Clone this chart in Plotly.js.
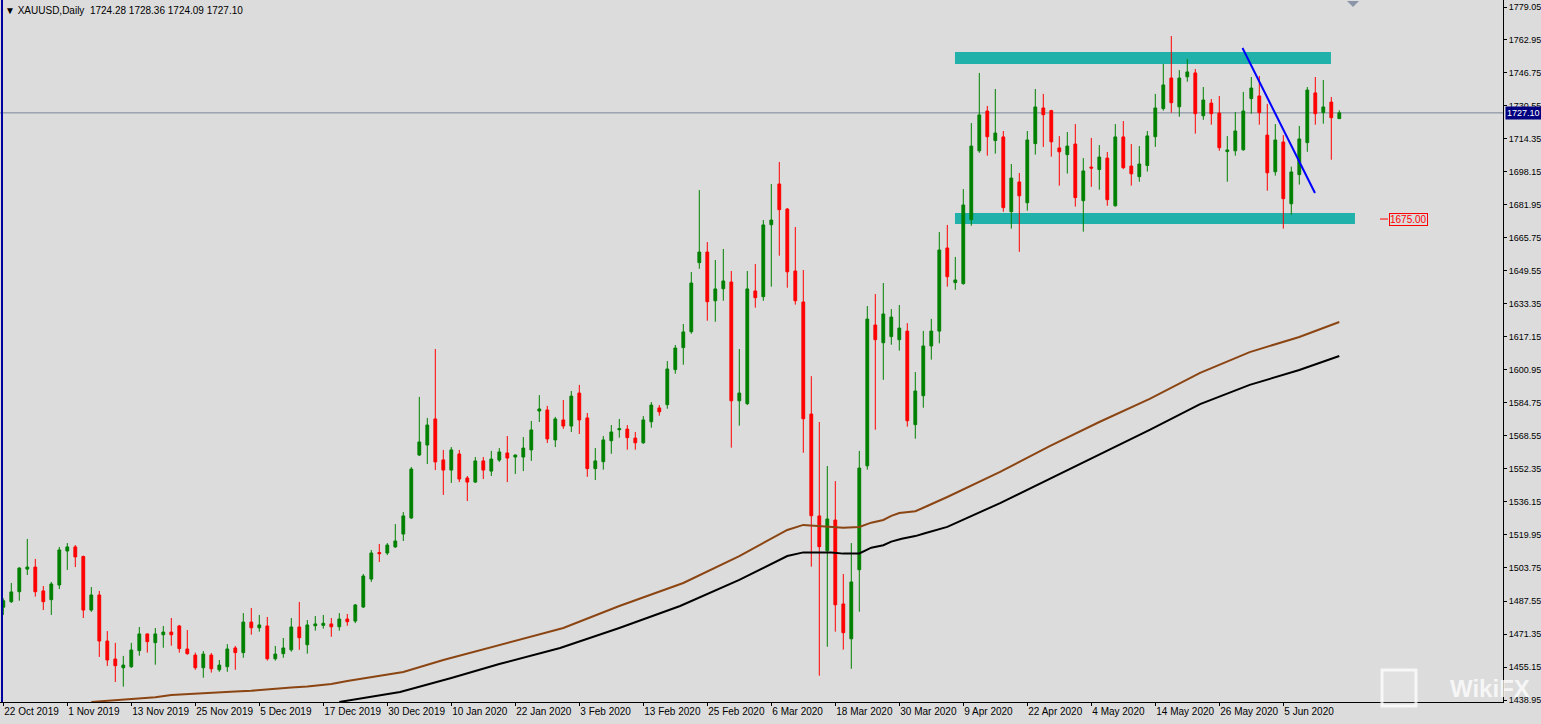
<!DOCTYPE html>
<html><head><meta charset="utf-8">
<script src="https://cdn.plot.ly/plotly-3.0.1.min.js"></script>
<style>html,body{margin:0;padding:0;background:#dcdcdc;overflow:hidden}#chart{width:1541px;height:724px}</style>
</head><body><div id="chart"></div>
<script>
// ---- Data ----
const openP = [1484.5,1487.2,1492.1,1503.2,1504.2,1492.5,1488.2,1495.4,1512.1,1514.1,
1509.4,1483.1,1490.5,1467.9,1459.1,1454.8,1455.3,1463.2,1471.4,1467.1,
1471.0,1472.3,1475.3,1464.0,1461.0,1454.8,1461.0,1453.8,1455.3,1464.5,
1462.2,1477.2,1474.4,1475.3,1459.2,1461.7,1463.6,1474.8,1466.1,1475.4,
1475.6,1476.3,1474.9,1478.7,1477.7,1484.6,1498.3,1511.3,1511.1,1514.1,
1520.4,1528.3,1559.2,1564.1,1576.9,1556.8,1551.8,1559.7,1547.9,1545.9,
1556.3,1551.3,1556.7,1560.2,1558.2,1558.2,1561.7,1580.8,1581.3,1566.6,
1576.4,1573.4,1589.6,1577.4,1552.5,1555.9,1566.2,1571.6,1571.9,1567.5,
1565.2,1575.5,1582.3,1583.9,1601.1,1611.9,1619.7,1653.6,1658.8,1634.9,
1640.8,1644.1,1585.8,1584.4,1639.7,1636.9,1672.2,1692.2,1679.9,1649.5,
1634.3,1579.3,1529.3,1512.2,1527.3,1486.1,1469.0,1502.9,1553.9,1623.0,
1614.3,1617.3,1615.8,1620.0,1574.1,1588.3,1612.7,1620.0,1660.8,1643.8,
1643.3,1674.7,1708.5,1728.0,1713.5,1715.3,1678.6,1693.2,1683.0,1712.0,
1729.5,1728.2,1709.9,1706.6,1711.8,1684.0,1700.5,1699.3,1704.9,1681.5,
1715.3,1701.0,1695.8,1701.3,1715.4,1729.2,1744.2,1730.1,1744.8,1746.7,
1725.7,1731.9,1727.0,1708.1,1708.5,1709.0,1734.1,1735.4,1716.2,1698.2,
1712.8,1682.5,1696.8,1712.5,1736.9,1727.2,1732.4,1724.28];
const highP = [1488.9,1496.4,1504.2,1518.0,1508.2,1494.9,1496.9,1514.1,1516.0,1515.0,
1509.8,1494.4,1492.5,1472.8,1467.0,1460.6,1467.0,1474.8,1471.6,1474.3,
1475.3,1479.2,1475.8,1473.3,1462.2,1463.0,1462.0,1458.6,1466.4,1465.5,
1481.6,1484.1,1480.7,1479.7,1465.5,1469.4,1479.2,1487.1,1478.2,1480.2,
1480.7,1479.2,1481.6,1481.2,1486.1,1500.8,1512.6,1515.5,1516.0,1525.3,
1531.2,1553.3,1587.7,1577.4,1611.2,1561.7,1563.1,1561.7,1548.9,1558.2,
1558.2,1561.2,1562.6,1568.5,1559.4,1568.0,1575.9,1588.6,1583.3,1577.9,
1586.2,1590.6,1593.6,1579.8,1562.6,1568.5,1573.9,1576.9,1573.9,1570.5,
1578.3,1585.2,1583.7,1605.3,1613.2,1623.5,1649.0,1689.2,1663.7,1654.9,
1660.3,1649.5,1611.2,1649.5,1652.9,1674.5,1692.2,1703.0,1680.4,1671.1,
1650.0,1597.9,1575.4,1553.8,1546.4,1500.8,1516.0,1561.2,1632.3,1638.2,
1643.6,1630.8,1632.8,1623.9,1599.9,1620.1,1626.0,1668.6,1672.1,1656.4,
1689.7,1722.1,1746.7,1730.5,1738.8,1718.2,1702.0,1697.6,1718.2,1738.8,
1736.4,1728.6,1715.7,1717.7,1721.6,1704.9,1714.8,1711.3,1707.9,1721.6,
1723.1,1711.8,1710.8,1718.2,1736.4,1751.1,1764.8,1748.1,1753.5,1748.6,
1739.8,1733.9,1735.4,1715.7,1727.5,1737.4,1744.7,1745.2,1731.5,1721.6,
1716.2,1700.7,1720.7,1739.8,1744.7,1743.2,1734.9,1728.36];
const lowP = [1480.7,1486.6,1487.7,1500.3,1489.7,1483.1,1480.7,1493.4,1502.8,1504.2,
1479.2,1482.2,1460.1,1455.7,1447.8,1445.5,1454.7,1460.7,1462.2,1456.3,
1464.6,1465.6,1462.2,1461.2,1453.8,1449.9,1452.4,1452.8,1452.8,1453.8,
1459.7,1471.0,1472.5,1458.3,1458.3,1459.7,1462.7,1463.6,1461.7,1473.0,
1474.0,1470.0,1473.0,1475.4,1476.7,1484.1,1496.9,1506.7,1510.1,1513.6,
1517.0,1527.8,1558.7,1554.8,1551.8,1539.6,1545.5,1545.9,1536.6,1545.5,
1547.4,1548.9,1555.8,1545.9,1549.9,1551.3,1556.3,1575.4,1565.1,1563.1,
1572.0,1570.5,1569.5,1548.5,1546.9,1552.0,1559.8,1567.7,1561.8,1561.8,
1564.7,1572.6,1578.5,1581.9,1599.1,1603.5,1618.7,1650.6,1625.1,1624.6,
1634.9,1562.8,1573.6,1583.7,1631.5,1634.9,1641.8,1657.0,1641.3,1633.0,
1560.3,1504.4,1450.9,1465.1,1472.5,1463.7,1454.3,1482.3,1552.0,1571.6,
1596.1,1613.3,1610.4,1573.1,1567.2,1582.4,1606.0,1614.0,1641.8,1640.3,
1642.8,1671.7,1707.5,1706.1,1707.1,1678.6,1670.3,1658.9,1679.1,1706.6,
1710.4,1705.6,1691.4,1697.3,1681.1,1668.8,1690.8,1689.4,1681.5,1681.1,
1699.5,1691.4,1693.3,1698.3,1710.4,1728.2,1727.2,1725.2,1742.4,1716.9,
1723.7,1721.3,1708.5,1693.3,1706.1,1708.5,1726.7,1721.3,1688.9,1696.3,
1670.3,1677.1,1691.9,1708.0,1721.3,1721.8,1704.1,1724.09];
const closeP = [1487.7,1492.0,1503.7,1504.2,1492.1,1487.2,1495.9,1512.6,1514.1,1509.2,
1483.1,1490.5,1467.9,1458.6,1455.8,1456.1,1463.5,1471.4,1467.6,1471.4,
1472.3,1471.0,1464.2,1461.7,1454.8,1461.5,1454.3,1456.1,1464.0,1462.2,
1477.2,1474.4,1475.8,1459.2,1461.5,1464.5,1474.8,1469.5,1475.8,1476.3,
1476.6,1474.9,1478.7,1477.4,1485.6,1499.8,1511.1,1510.8,1515.0,1517.0,
1529.3,1552.3,1565.6,1573.9,1555.8,1551.8,1561.7,1547.4,1545.9,1556.3,
1551.8,1557.2,1560.7,1557.7,1559.2,1562.6,1571.5,1581.8,1567.1,1576.9,
1573.4,1588.1,1576.4,1552.5,1556.3,1566.6,1570.5,1572.1,1567.7,1565.2,
1576.4,1583.7,1580.4,1601.4,1611.7,1619.6,1643.6,1658.8,1634.4,1640.7,
1644.6,1585.8,1589.6,1640.7,1636.4,1672.1,1674.5,1679.6,1649.1,1634.9,
1577.0,1529.4,1514.2,1527.8,1485.7,1472.0,1496.9,1552.8,1625.9,1615.8,
1628.4,1626.9,1621.5,1576.0,1590.6,1612.7,1620.0,1659.8,1646.7,1645.1,
1681.9,1710.8,1726.1,1715.4,1717.2,1680.6,1695.1,1686.4,1713.8,1730.0,
1726.2,1712.9,1708.0,1710.8,1685.5,1698.6,1700.0,1705.4,1684.5,1715.3,
1700.2,1697.2,1702.0,1715.8,1729.5,1740.8,1732.1,1744.2,1747.2,1726.7,
1733.4,1726.7,1710.0,1708.9,1718.2,1728.0,1739.3,1727.2,1697.7,1713.8,
1685.0,1698.1,1714.3,1738.3,1726.7,1730.0,1724.7,1727.10];

// moving averages (bar index, value)
const maBrownBar = [11,16,19,21,24,26,29,31,34,36,38,41,43,50,55,62,70,77,85,92,98,100,103,105,107,108.5,110,111,112,114,115,118,124.6,130.8,137,143.3,149.6,155.8,162,167];
const maBrownVal = [1438.0,1439.3,1440.3,1441.4,1441.9,1442.5,1443.1,1443.5,1444.6,1445.1,1445.6,1446.8,1448.3,1452.7,1458.6,1466.0,1474.3,1485.1,1496.4,1509.6,1522.4,1524.9,1524.2,1523.5,1523.9,1526.0,1527.3,1529.3,1530.7,1531.6,1533.3,1538.6,1550.9,1563.6,1575.4,1586.7,1599.5,1609.7,1617.1,1624.5];
const maBlackBar = [42,49.6,56,62,69.6,77,84.6,92,98,100,103.5,105,107,108.5,110,111,112.3,114,115.2,118,124.6,130.8,137,143.3,149.6,155.8,162,167];
const maBlackVal = [1438.0,1442.9,1449.8,1456.6,1464.5,1474.3,1485.1,1497.9,1509.6,1511.4,1511.4,1510.8,1510.9,1513.7,1514.9,1516.7,1518.1,1519.4,1520.8,1523.9,1535.6,1547.4,1559.2,1571.5,1584.2,1593.6,1600.9,1607.8];

const dateLabels = ["22 Oct 2019","1 Nov 2019","13 Nov 2019","25 Nov 2019","5 Dec 2019","17 Dec 2019","30 Dec 2019","10 Jan 2020","22 Jan 2020","3 Feb 2020","13 Feb 2020","25 Feb 2020","6 Mar 2020","18 Mar 2020","30 Mar 2020","9 Apr 2020","22 Apr 2020","4 May 2020","14 May 2020","26 May 2020","5 Jun 2020"];
const dateLabelBars = [0,8,16,24,32,40,48,56,64,72,80,88,96,104,112,120,128,136,144,152,160];
const priceTicks = [1779.05,1762.95,1746.75,1730.55,1714.35,1698.15,1681.95,1665.75,1649.55,1633.35,1617.15,1600.95,1584.75,1568.55,1552.35,1536.15,1519.95,1503.75,1487.55,1471.35,1455.15,1438.95];
const lastPrice = 1727.10;
const levelPrice = 1675.00;
const headerText = "XAUUSD,Daily  1724.28 1728.36 1724.09 1727.10";

// ---- Build ----
const barIdx = openP.map((_, i) => i);
const FONT = "'Liberation Sans', Arial, sans-serif";

const traces = [
  {
    type: 'candlestick', x: barIdx, open: openP, high: highP, low: lowP, close: closeP,
    increasing: {line: {color: '#008000', width: 1}, fillcolor: '#008000'},
    decreasing: {line: {color: '#ff0000', width: 1}, fillcolor: '#ff0000'},
    whiskerwidth: 0, hoverinfo: 'skip', showlegend: false
  },
  {type: 'scatter', mode: 'lines', x: maBrownBar, y: maBrownVal, line: {color: '#8b4513', width: 2}, hoverinfo: 'skip', showlegend: false},
  {type: 'scatter', mode: 'lines', x: maBlackBar, y: maBlackVal, line: {color: '#000000', width: 2}, hoverinfo: 'skip', showlegend: false}
];

const W = 1503, H = 702;
const xLeft = -3.3 / 8, xRight = (W - 3.3) / 8;
const yTop = 1782.49, yBot = 1782.49 - 0.49075 * H;
const px = v => v / W;          // pixel -> paper x
const py = v => 1 - v / H;      // pixel -> paper y

const layout = {
  width: 1541, height: 724,
  margin: {l: 0, r: 38, t: 0, b: 22, pad: 0},
  paper_bgcolor: '#dcdcdc', plot_bgcolor: '#dcdcdc',
  boxgap: 0.5,
  showlegend: false,
  font: {family: FONT, size: 10, color: '#000'},
  xaxis: {
    range: [xLeft, xRight], fixedrange: true, rangeslider: {visible: false},
    showgrid: false, zeroline: false, showline: true, linecolor: '#000', linewidth: 1,
    tickmode: 'array', tickvals: dateLabelBars, ticktext: dateLabels, tickangle: 0,
    ticks: 'outside', ticklen: 3, tickcolor: '#000', ticklabelposition: 'outside right',
    tickfont: {family: FONT, size: 10, color: '#000'}
  },
  yaxis: {
    range: [yBot, yTop], fixedrange: true, side: 'right',
    showgrid: false, zeroline: false, showline: true, linecolor: '#000', linewidth: 1,
    tickmode: 'array', tickvals: priceTicks, ticktext: priceTicks.map(v => v.toFixed(2)),
    ticks: 'outside', ticklen: 3, tickcolor: '#000',
    tickfont: {family: FONT, size: 9, color: '#000'}
  },
  shapes: [
    {type: 'line', xref: 'paper', yref: 'y', x0: 0, x1: 1, y0: lastPrice, y1: lastPrice, line: {color: '#778899', width: 1}, layer: 'below'},
    {type: 'rect', xref: 'x', yref: 'y', x0: 118.96, x1: 165.96, y0: 1751.1, y1: 1757.0, fillcolor: '#20b2aa', line: {width: 0}, layer: 'below'},
    {type: 'rect', xref: 'x', yref: 'y', x0: 118.96, x1: 168.96, y0: 1672.6, y1: 1678.0, fillcolor: '#20b2aa', line: {width: 0}, layer: 'below'},
    {type: 'line', xref: 'x', yref: 'y', x0: 154.9, y0: 1758.9, x1: 163.96, y1: 1687.8, line: {color: '#0000ff', width: 2}},
    {type: 'line', xref: 'paper', yref: 'paper', x0: px(2), x1: px(2), y0: 0, y1: 1, line: {color: '#0000a0', width: 2}},
    {type: 'line', xref: 'paper', yref: 'y', x0: px(1380), x1: px(1388), y0: levelPrice, y1: levelPrice, line: {color: '#ff0000', width: 1}},
    // chart-shift marker at the top
    {type: 'path', xref: 'paper', yref: 'paper', path: `M ${px(1347)} ${py(1)} L ${px(1359)} ${py(1)} L ${px(1353)} ${py(7)} Z`,
     fillcolor: '#8a96a8', line: {width: 0}},
    // watermark logo
    {type: 'rect', xref: 'paper', yref: 'paper', x0: px(1382), x1: px(1416), y0: py(706), y1: py(670),
     line: {color: 'rgba(255,255,255,0.75)', width: 3}, fillcolor: 'rgba(255,255,255,0.15)'}
  ],
  annotations: [
    {xref: 'paper', yref: 'paper', x: px(3), y: py(3), xanchor: 'left', yanchor: 'top', showarrow: false,
     text: '\u25BC ' + headerText, font: {family: FONT, size: 10, color: '#000'}},
    {xref: 'paper', yref: 'y', x: px(1389), y: levelPrice, xanchor: 'left', yanchor: 'middle', showarrow: false,
     text: levelPrice.toFixed(2), font: {family: FONT, size: 10, color: '#ff0000'},
     bgcolor: '#dcdcdc', bordercolor: '#ff0000', borderwidth: 1, borderpad: 0},
    {xref: 'paper', yref: 'y', x: px(1505), y: lastPrice, xanchor: 'left', yanchor: 'middle', showarrow: false,
     text: lastPrice.toFixed(2), font: {family: FONT, size: 9, color: '#ffffff'},
     bgcolor: '#000080', borderpad: 1},
    {xref: 'paper', yref: 'paper', x: px(1532), y: py(688), xanchor: 'right', yanchor: 'middle', showarrow: false,
     text: '<b>WikiFX</b>', font: {family: FONT, size: 24, color: 'rgba(255,255,255,0.75)'}}
  ]
};

Plotly.newPlot('chart', traces, layout, {displayModeBar: false, staticPlot: true});
</script></body></html>
